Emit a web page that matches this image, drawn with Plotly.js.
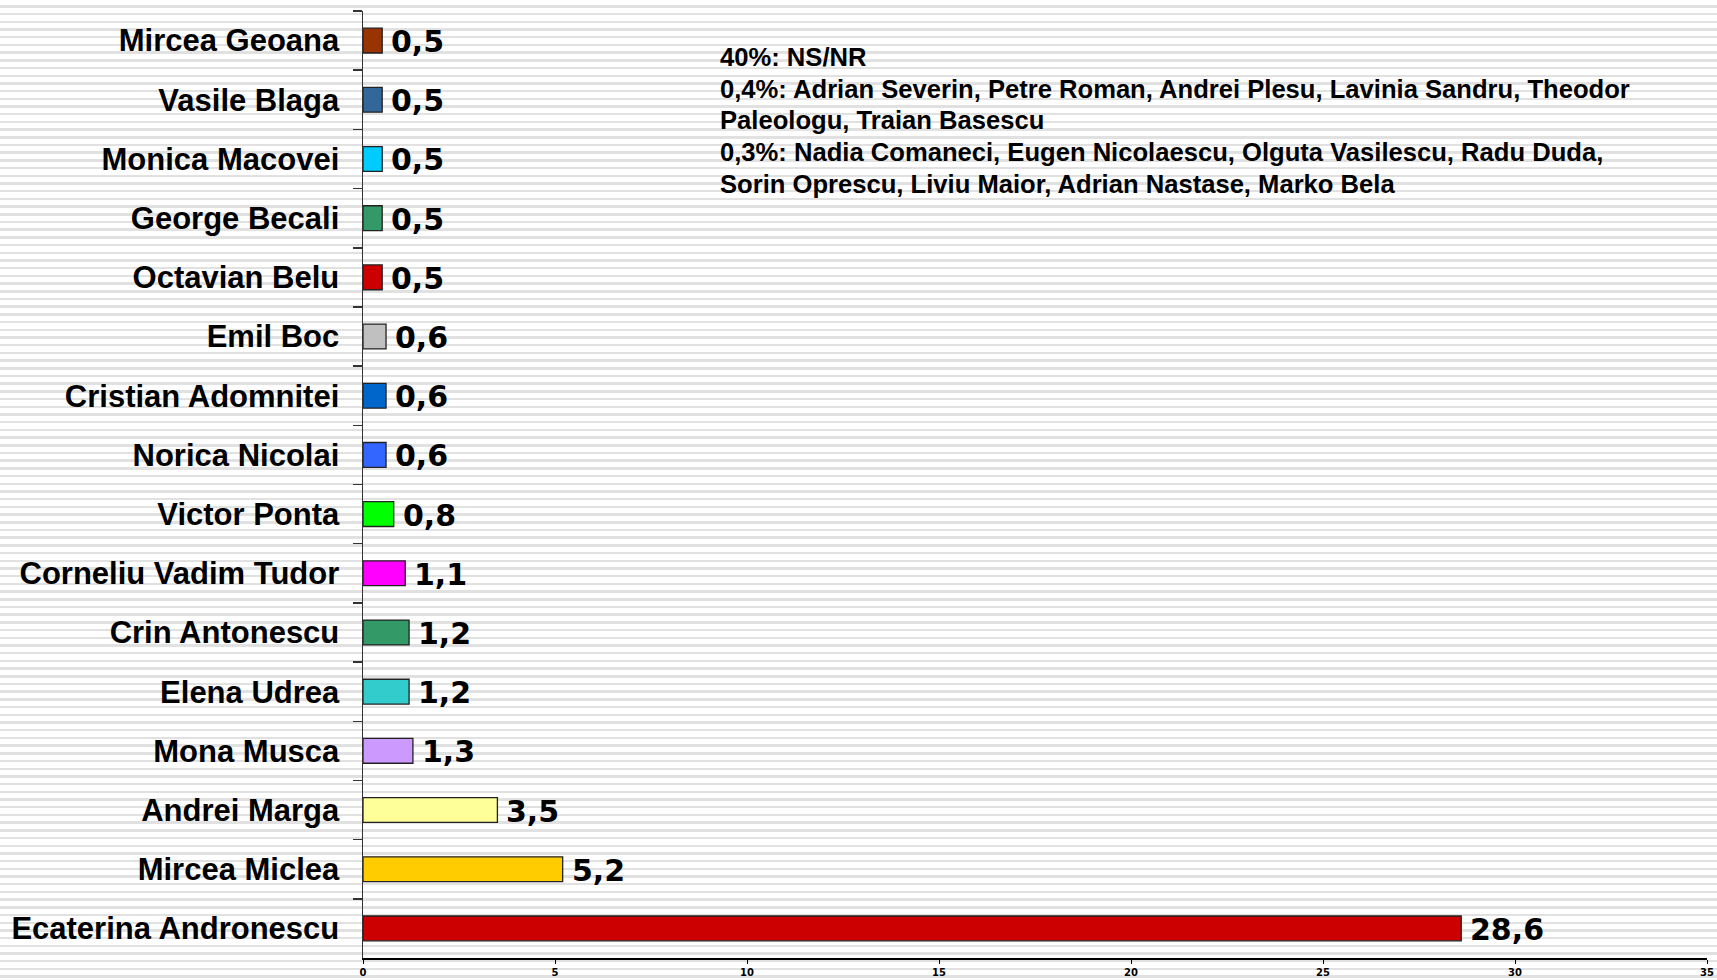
<!DOCTYPE html>
<html>
<head>
<meta charset="utf-8">
<script src="https://cdn.plot.ly/plotly-3.0.1.min.js"></script>
<style>
  html, body { margin: 0; padding: 0; }
  body {
    width: 1717px; height: 980px; overflow: hidden;
    background: repeating-linear-gradient(to bottom, #ffffff 0px, #ffffff 5.2px, #e1e1e1 5.2px, #e1e1e1 7.7px);
  }
  #chart { width: 1717px; height: 980px; }
</style>
</head>
<body>
<div id="chart"></div>
<script>
// Candidates, top to bottom as in the chart
const candidates = [
  "Mircea Geoana", "Vasile Blaga", "Monica Macovei", "George Becali",
  "Octavian Belu", "Emil Boc", "Cristian Adomnitei", "Norica Nicolai",
  "Victor Ponta", "Corneliu Vadim Tudor", "Crin Antonescu", "Elena Udrea",
  "Mona Musca", "Andrei Marga", "Mircea Miclea", "Ecaterina Andronescu"
];
const percentages = [0.5, 0.5, 0.5, 0.5, 0.5, 0.6, 0.6, 0.6, 0.8, 1.1, 1.2, 1.2, 1.3, 3.5, 5.2, 28.6];
const barColors = [
  "#993300", "#336699", "#00CCFF", "#339966",
  "#CC0000", "#C0C0C0", "#0066CC", "#3366FF",
  "#00FF00", "#FF00FF", "#339966", "#33CCCC",
  "#CC99FF", "#FFFF99", "#FFCC00", "#CC0000"
];
const xTicks = [0, 5, 10, 15, 20, 25, 30, 35];
const noteLines = [
  "40%: NS/NR",
  "0,4%: Adrian Severin, Petre Roman, Andrei Plesu, Lavinia Sandru, Theodor",
  "Paleologu, Traian Basescu",
  "0,3%: Nadia Comaneci, Eugen Nicolaescu, Olguta Vasilescu, Radu Duda,",
  "Sorin Oprescu, Liviu Maior, Adrian Nastase, Marko Bela"
];

const fmt = v => v.toFixed(1).replace('.', ',');

const trace = {
  type: 'bar',
  orientation: 'h',
  x: percentages,
  y: candidates,
  width: 0.42,
  marker: { color: barColors, line: { color: '#222222', width: 1.3 } },
  hoverinfo: 'x+y'
};

const valueAnnotations = candidates.map((c, i) => ({
  x: percentages[i], y: c, xref: 'x', yref: 'y',
  text: fmt(percentages[i]),
  showarrow: false, xanchor: 'left', yanchor: 'middle', xshift: 7, yshift: -1,
  font: { family: 'DejaVu Sans, Verdana, sans-serif', size: 30, color: '#000', weight: 'bold' }
}));

// note block: one annotation per line, placed in paper coordinates
const plotTop = 11, plotH = 947;
const lineCenters = [57, 88.7, 120.4, 152.2, 184];
const noteAnnotations = noteLines.map((t, i) => ({
  xref: 'paper', yref: 'paper', x: 0.2641, y: 1 - (lineCenters[i] - plotTop) / plotH,
  xanchor: 'left', yanchor: 'middle', align: 'left', showarrow: false,
  text: t,
  font: { family: 'Liberation Sans, Arial, sans-serif', size: 25.6, color: '#000', weight: 'bold' }
}));

const layout = {
  width: 1717, height: 980,
  margin: { l: 363, r: 10, t: 11, b: 22, pad: 0 },
  paper_bgcolor: 'rgba(0,0,0,0)',
  plot_bgcolor: 'rgba(0,0,0,0)',
  showlegend: false,
  xaxis: {
    range: [0, 35], tickvals: xTicks, ticktext: xTicks.map(String),
    showgrid: false, zeroline: false,
    showline: true, linecolor: '#000', linewidth: 1.5,
    ticks: 'outside', ticklen: 4, tickcolor: '#000', tickwidth: 1,
    tickfont: { family: 'DejaVu Sans, Verdana, sans-serif', size: 10, color: '#000', weight: 'bold' },
    fixedrange: true
  },
  yaxis: {
    type: 'category', autorange: 'reversed',
    showgrid: false, zeroline: false,
    showline: true, linecolor: '#333', linewidth: 1.5,
    ticks: 'outside', tickson: 'boundaries', ticklen: 9, tickcolor: '#333', tickwidth: 1.5,
    ticklabelstandoff: 16,
    tickfont: { family: 'Liberation Sans, Arial, sans-serif', size: 31, color: '#000', weight: 'bold' },
    fixedrange: true
  },
  annotations: valueAnnotations.concat(noteAnnotations)
};

Plotly.newPlot('chart', [trace], layout, { displayModeBar: false, staticPlot: true });
</script>
</body>
</html>
